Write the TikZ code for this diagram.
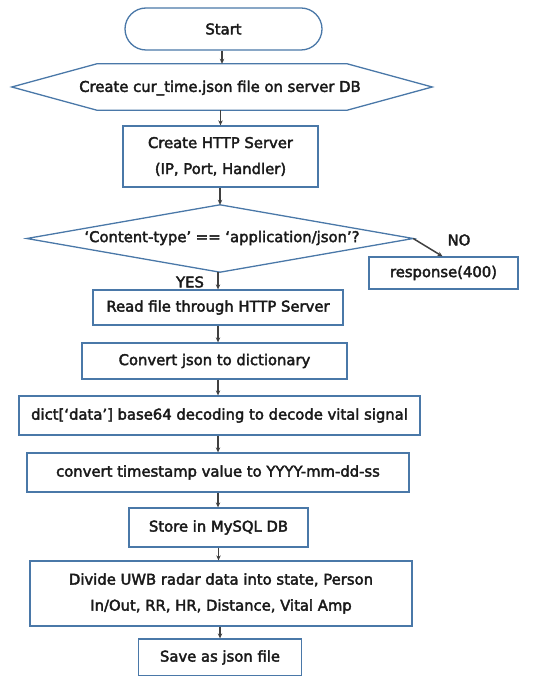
\documentclass[tikz,border=0pt]{standalone}
\usepackage{fontspec}
\setmainfont{DejaVu Sans}[FakeBold=2.6]
\usetikzlibrary{arrows.meta}
\definecolor{bord}{HTML}{4A78A8}
\definecolor{arr}{HTML}{404040}
\definecolor{txt}{HTML}{1A1A1A}
\tikzset{
  box/.style={draw=bord, line width=1.3pt, fill=white, inner sep=0pt, align=center, font=\fontsize{14.8}{26}\selectfont, text=txt},
  ghost/.style={inner sep=0pt, align=center, font=\fontsize{14.8}{26}\selectfont, text=txt},
  shapeline/.style={draw=bord, line width=1.3pt},
  flow/.style={draw=arr, line width=1.5pt, -{Stealth[length=5pt,width=4.5pt]}},
  lbl/.style={font=\fontsize{14.8}{16}\selectfont, text=txt}
}
\begin{document}
\begin{tikzpicture}[x=1pt,y=-1pt]
\useasboundingbox (0,0) rectangle (533,676);
% start
\node[box, rounded corners=21pt, minimum width=197pt, minimum height=42pt] (start) at (223.5,29) {Start};
% hexagon
\node[ghost, minimum width=420pt, minimum height=46pt] (hex) at (222,87) {};
\draw[shapeline] (hex.west) -- ([xshift=85pt]hex.north west) -- ([xshift=-85pt]hex.north east) -- (hex.east) -- ([xshift=-85pt]hex.south east) -- ([xshift=85pt]hex.south west) -- cycle;
\node[ghost] (hextxt) at (220,88) {Create cur\_time.json file on server DB};
% http server
\node[box, minimum width=195pt, minimum height=61pt] (http) at (220.5,156.5) {Create HTTP Server\\(IP, Port, Handler)};
% decision
\node[ghost, minimum width=386pt, minimum height=67pt] (dec) at (220,238.5) {};
\draw[shapeline] (dec.north) -- (dec.east) -- (dec.south) -- (dec.west) -- cycle;
\node[ghost] (dectxt) at (222,238) {‘Content-type’ == ‘application/json’?};
% response
\node[box, minimum width=149pt, minimum height=32pt] (resp) at (443.5,273) {response(400)};
% steps
\node[box, minimum width=250pt, minimum height=35pt] (read) at (218,307.5) {Read file through HTTP Server};
\node[box, minimum width=265pt, minimum height=36pt] (conv) at (214.5,361) {Convert json to dictionary};
\node[box, minimum width=401pt, minimum height=39pt] (dict) at (219.5,415.5) {dict[‘data’] base64 decoding to decode vital signal};
\node[box, minimum width=382pt, minimum height=39pt] (ts) at (218,472.5) {convert timestamp value to YYYY-mm-dd-ss};
\node[box, minimum width=179pt, minimum height=39pt] (store) at (218.5,527.5) {Store in MySQL DB};
\node[box, minimum width=382pt, minimum height=65pt] (div) at (221,593.5) {Divide UWB radar data into state, Person\\In/Out, RR, HR, Distance, Vital Amp};
\node[box, minimum width=163pt, minimum height=37pt] (save) at (220,657.5) {Save as json file};
% labels
\node[lbl] (no) at (459,240) {NO};
\node[lbl] (yes) at (190,282) {YES};
% arrows
\draw[flow] (start.south -| hex.north) -- (hex.north);
\draw[flow] (hex.south -| http.north) -- (http.north);
\draw[flow] (http.south -| dec.north) -- (dec.north);
\draw[flow] (dec.east) -- ([xshift=-1pt]resp.north);
\draw[flow] (dec.south -| read.north) -- (read.north);
\draw[flow] (read.south) -- (read.south |- conv.north);
\draw[flow] (read.south |- conv.south) -- (read.south |- dict.north);
\draw[flow] (ts.north |- dict.south) -- (ts.north);
\draw[flow] (ts.south) -- (ts.south |- store.north);
\draw[flow] (store.south) -- (store.south |- div.north);
\draw[flow] (save.north |- div.south) -- (save.north);
\end{tikzpicture}
\end{document}
